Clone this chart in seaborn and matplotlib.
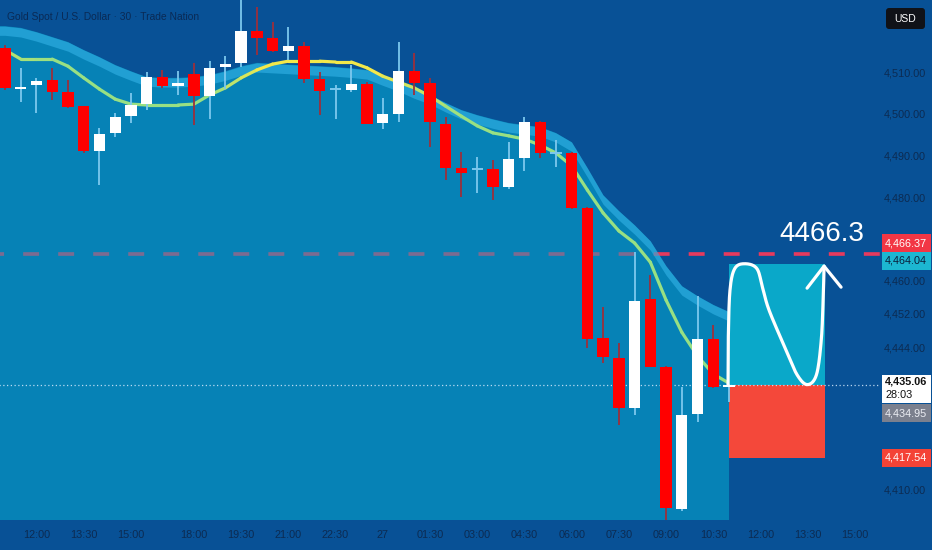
import numpy as np
import matplotlib
matplotlib.use("Agg")
import matplotlib.pyplot as plt
import seaborn as sns
from matplotlib.patches import Rectangle, FancyBboxPatch
from matplotlib.collections import LineCollection
from matplotlib.colors import to_rgb

# ---------------- data ----------------
opens = [4515.8, 4506.0, 4506.9, 4508.1, 4505.2, 4501.8, 4491.1, 4495.3, 4499.4, 4502.3, 4508.8, 4506.6,
         4509.5, 4504.2, 4511.2, 4512.2, 4519.8, 4518.2, 4515.0, 4516.2, 4508.3, 4505.9, 4505.7, 4507.2,
         4497.8, 4500.0, 4510.2, 4507.4, 4497.5, 4487.0, 4486.7, 4486.7, 4482.4, 4489.4, 4498.0, 4490.6,
         4490.6, 4477.4, 4446.2, 4441.4, 4429.4, 4455.6, 4439.3, 4405.2, 4428.0, 4446.0, 4434.5]
highs = [4516.5, 4511.0, 4508.6, 4511.0, 4508.1, 4501.9, 4496.6, 4500.2, 4505.0, 4510.0, 4510.5, 4510.2,
         4512.2, 4512.6, 4513.8, 4530.0, 4525.6, 4522.0, 4520.8, 4517.2, 4510.0, 4506.9, 4511.7, 4507.6,
         4503.8, 4517.2, 4514.6, 4508.6, 4499.2, 4490.8, 4489.6, 4488.9, 4493.2, 4499.2, 4498.2, 4493.7,
         4490.8, 4477.6, 4453.6, 4445.0, 4466.8, 4461.3, 4439.5, 4434.5, 4456.3, 4449.3, 4435.2]
lows = [4505.8, 4502.8, 4500.2, 4503.3, 4501.4, 4490.6, 4482.9, 4494.4, 4497.8, 4500.9, 4506.2, 4504.5,
        4497.3, 4498.7, 4505.9, 4511.2, 4514.1, 4514.8, 4512.9, 4507.4, 4499.7, 4498.7, 4505.2, 4497.5,
        4496.3, 4498.0, 4504.5, 4492.0, 4484.1, 4480.0, 4481.0, 4479.3, 4481.9, 4486.3, 4489.4, 4487.2,
        4477.2, 4443.8, 4440.2, 4425.3, 4427.7, 4439.3, 4401.5, 4404.7, 4426.1, 4434.2, 4430.9]
closes = [4506.2, 4506.5, 4507.8, 4505.2, 4501.6, 4491.1, 4495.1, 4499.2, 4502.1, 4508.8, 4506.6, 4507.4,
          4504.2, 4511.0, 4511.9, 4519.8, 4518.2, 4515.0, 4516.2, 4508.3, 4505.4, 4505.9, 4507.2, 4497.5,
          4499.9, 4510.2, 4507.4, 4498.0, 4487.0, 4485.8, 4486.7, 4482.4, 4489.1, 4498.0, 4490.6, 4490.6,
          4477.4, 4446.0, 4441.7, 4429.4, 4455.1, 4439.3, 4405.4, 4427.7, 4446.0, 4434.5, 4435.06]
ema = [4515.3, 4513.1, 4513.1, 4513.1, 4511.4, 4508.6, 4505.9, 4503.5, 4502.3, 4502.1, 4502.1, 4502.1,
       4502.3, 4504.5, 4506.2, 4508.6, 4510.5, 4511.9, 4512.6, 4512.6, 4512.6, 4512.4, 4512.4, 4511.0,
       4509.0, 4507.6, 4506.2, 4504.2, 4501.8, 4499.4, 4497.1, 4495.4, 4494.7, 4493.9, 4492.5, 4490.6,
       4487.5, 4481.7, 4476.2, 4471.9, 4469.0, 4464.4, 4455.3, 4447.6, 4441.9, 4437.6, 4435.4]
band = [4521.0, 4520.6, 4519.6, 4518.4, 4517.2, 4515.3, 4513.6, 4511.7, 4510.2, 4508.8, 4508.6, 4508.6,
        4508.8, 4509.3, 4510.2, 4511.4, 4512.2, 4512.0, 4511.8, 4511.6, 4511.4, 4511.2, 4510.9, 4510.5,
        4509.0, 4507.6, 4505.9, 4504.5, 4502.6, 4500.9, 4499.7, 4498.7, 4497.8, 4497.3, 4496.8, 4495.4,
        4493.2, 4487.0, 4480.5, 4476.7, 4473.3, 4469.5, 4463.5, 4458.7, 4456.3, 4454.2, 4452.5]

xtick_pos = [2, 5, 8, 12, 15, 18, 21, 24, 27, 30, 33, 36, 39, 42, 45, 48, 51, 54]
xtick_labels = ["12:00", "13:30", "15:00", "18:00", "19:30", "21:00", "22:30", "27", "01:30", "03:00",
                "04:30", "06:00", "07:30", "09:00", "10:30", "12:00", "13:30", "15:00"]
ytick_vals = [4410, 4444, 4452, 4460, 4470, 4480, 4490, 4500, 4510]

alert_price = 4466.37
target_price = 4464.04
entry_price = 4435.06
bid_price = 4434.95
stop_price = 4417.54
countdown = "28:03"
note_text = "4466.3"
title_text = "Gold Spot / U.S. Dollar \u00b7 30 \u00b7 Trade Nation"
currency = "USD"
box_start, box_end = 46.0, 52.1

# ---------------- style ----------------
BG = "#085196"
FILL = "#06a4cd"
STRIP = "#3cbcf0"
TXT = "#0c2b52"
UP_BODY, UP_WICK = "#ffffff", "#7cc8ee"
DN_BODY, DN_WICK = "#ff0000", "#9c2f3c"
GREEN, YELLOW = "#98e083", "#f3e84a"
ALERT = "#e63a5e"

sns.set_theme(style="dark")
plt.rcParams["font.family"] = ["Liberation Sans Narrow", "Liberation Sans", "DejaVu Sans"]

W, H = 932, 550
fig = plt.figure(figsize=(W / 100, H / 100), dpi=100, facecolor=BG)
ax = fig.add_axes([0, 30 / H, 880 / W, 520 / H])
ax.set_facecolor(BG)
for s in ax.spines.values():
    s.set_visible(False)
ax.grid(False)

n = len(opens)
idx = np.arange(n)
o, h, l, c = map(np.array, (opens, highs, lows, closes))

ax.set_xlim(-0.318, 55.59)
ax.set_ylim(4402.6, 4527.27)

# alert dashed line (beneath the translucent cloud, with a faint tint above it)
dash = (3, (4.4, 5.3))
ax.plot([-1, 60], [alert_price, alert_price], color=ALERT, lw=2.6, linestyle=dash, zorder=1,
        solid_capstyle="butt")
ax.plot([-1, 60], [alert_price, alert_price], color=ALERT, lw=2.6, linestyle=dash, zorder=2.2,
        alpha=0.22, solid_capstyle="butt")

# cloud fill
xf = np.concatenate([[-1.0], idx])
bf = np.concatenate([[band[0]], band])
ax.fill_between(xf, 4380, bf, color=FILL, alpha=0.6, lw=0, zorder=2)
ax.fill_between(xf, bf - 2.2, bf, color=STRIP, alpha=0.5, lw=0, zorder=2.1)

# EMA line with yellow/green colouring
ex = np.concatenate([[-1.0], idx])
ey = np.concatenate([[ema[0]], ema])
pts = np.column_stack([ex, ey])
segs = np.stack([pts[:-1], pts[1:]], axis=1)
mid = 0.5 * (ex[:-1] + ex[1:])
warm = np.interp(mid, [-1, 1, 3, 13, 16.5, 23.5, 29], [0.55, 0.2, 0.0, 0.0, 1.0, 1.0, 0.0])
g, yv = np.array(to_rgb(GREEN)), np.array(to_rgb(YELLOW))
cols = [tuple(g * (1 - w) + yv * w) for w in warm]
ax.add_collection(LineCollection(segs, colors=cols, linewidths=2.3, zorder=3, capstyle="round"))

# current price dotted line
sns.lineplot(x=[-1, 60], y=[entry_price, entry_price], ax=ax, color="#d8ecff", lw=0.9,
             linestyle=(0, (1, 2)), alpha=0.85, zorder=3.5)

# position boxes
ax.add_patch(Rectangle((box_start, entry_price), box_end - box_start, target_price - entry_price,
                       facecolor="#0aa8c9", edgecolor="none", zorder=3.2))
ax.add_patch(Rectangle((box_start, stop_price), box_end - box_start, entry_price - stop_price,
                       facecolor="#f4483a", edgecolor="none", zorder=3.2))

# candles
up = c >= o
doji = np.abs(c - o) < 0.15
bw = 0.72
ax.vlines(idx[up], l[up], h[up], color=UP_WICK, lw=1.3, zorder=4)
ax.vlines(idx[~up], l[~up], h[~up], color=DN_WICK, lw=1.3, zorder=4)
m = up & ~doji
ax.bar(idx[m], (c - o)[m], bottom=o[m], width=bw, color=UP_BODY, lw=0, zorder=5)
ax.bar(idx[~up], (o - c)[~up], bottom=c[~up], width=bw, color=DN_BODY, lw=0, zorder=5)
ax.hlines(c[doji], idx[doji] - bw / 2, idx[doji] + bw / 2, color=UP_WICK, lw=1.4, zorder=5)

# axes ticks
ax.yaxis.tick_right()
ax.set_yticks(ytick_vals)
ax.set_yticklabels([f"{v:,.2f}" for v in ytick_vals])
ax.set_xticks(xtick_pos)
ax.set_xticklabels(xtick_labels)
ax.tick_params(axis="y", length=0, pad=3, labelsize=7.8, labelcolor=TXT)
ax.tick_params(axis="x", length=0, pad=7, labelsize=7.8, labelcolor=TXT)

# ---------------- overlay in pixel coordinates ----------------
ov = fig.add_axes([0, 0, 1, 1], facecolor="none")
ov.set_xlim(0, W)
ov.set_ylim(H, 0)
ov.axis("off")


def py(price):
    return H - ax.transData.transform((0, price))[1]


def px(xi):
    return ax.transData.transform((xi, 0))[0]


# white hand-drawn wave inside the target box
bx0, bx1 = px(box_start), px(box_end)
yb, yt = py(entry_price), py(target_price)
fx = [0.0, 0.003, 0.02, 0.07, 0.175, 0.30, 0.36, 0.43, 0.61, 0.72, 0.825, 0.92, 0.97, 0.99, 1.0]
fy = [0.0, 0.40, 0.78, 0.96, 1.0, 0.96, 0.80, 0.61, 0.275, 0.08, 0.0, 0.08, 0.36, 0.69, 0.98]
P = np.column_stack([bx0 - 1 + np.array(fx) * (bx1 - bx0), yb - np.array(fy) * (yb - yt)])


def catmull(points, k=16):
    pp = np.vstack([points[0], points, points[-1]])
    out = []
    t = np.linspace(0, 1, k, endpoint=False)[:, None]
    for i in range(1, len(pp) - 2):
        p0, p1, p2, p3 = pp[i - 1], pp[i], pp[i + 1], pp[i + 2]
        out.append(0.5 * (2 * p1 + (-p0 + p2) * t + (2 * p0 - 5 * p1 + 4 * p2 - p3) * t ** 2
                          + (-p0 + 3 * p1 - 3 * p2 + p3) * t ** 3))
    out.append(pp[-2][None])
    return np.vstack(out)


curve = catmull(P)
ov.plot(curve[:, 0], curve[:, 1], color="white", lw=2.3, solid_capstyle="round",
        solid_joinstyle="round", zorder=6)
tip = curve[-1]
ov.plot([tip[0] - 17, tip[0], tip[0] + 17], [tip[1] + 22, tip[1], tip[1] + 21], color="white",
        lw=2.3, solid_capstyle="round", solid_joinstyle="round", zorder=6)

ov.text(864, py(alert_price) - 20, note_text, color="white", fontsize=20, ha="right", va="center",
        zorder=6)

# title
ov.text(7, 17, title_text, color="#0a2a55", fontsize=7.4, ha="left", va="center")

# currency box
ov.add_patch(FancyBboxPatch((886, 8), 39, 21, boxstyle="round,pad=0,rounding_size=3",
                            facecolor="#101218", edgecolor="none"))
ov.text(905.5, 18.5, currency, color="white", fontsize=7.5, ha="center", va="center")

# price labels on the scale
labels = [
    (alert_price, "#f23645", "white", -11, 19),
    (target_price, "#1cb7d1", "#0b1e3a", -3, 18),
    (bid_price, "#7b808e", "#eceef4", 28, 18),
    (stop_price, "#f44336", "white", 0, 18),
]
for price, face, tc, dy, hh in labels:
    cy = py(price) + dy
    ov.add_patch(Rectangle((882, cy - hh / 2), 49, hh, facecolor=face, edgecolor="none", zorder=7))
    ov.text(885, cy, f"{price:,.2f}", color=tc, fontsize=7.8, ha="left", va="center", zorder=8)

ey0 = py(entry_price)
ov.add_patch(Rectangle((882, ey0 - 10), 49, 28, facecolor="white", edgecolor="none", zorder=7))
ov.text(885, ey0 - 3, f"{entry_price:,.2f}", color="#111111", fontsize=7.8, ha="left", va="center",
        zorder=8, fontweight="bold")
ov.text(885, ey0 + 10, countdown, color="#111111", fontsize=7.8, ha="left", va="center", zorder=8)

fig.savefig("out.png", dpi=100, facecolor=BG)
